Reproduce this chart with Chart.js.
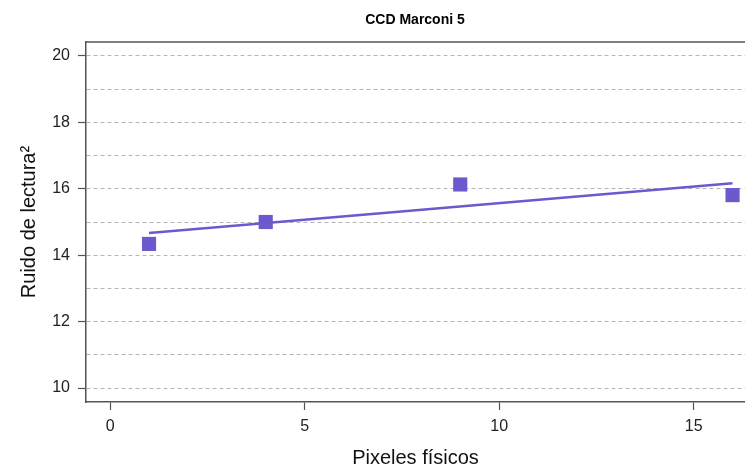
<!DOCTYPE html>
<html>
<head>
<meta charset="utf-8">
<script src="https://cdn.jsdelivr.net/npm/chart.js@4"></script>
<style>
  html, body { margin:0; padding:0; background:#fff; overflow:hidden }
  canvas { display:block }
</style>
</head>
<body>
<canvas id="c" width="745" height="468"></canvas>
<script>
// values
const pixels = [1, 4, 9, 16]
const noiseSq = [14.34, 15.0, 16.13, 15.81]
const fitX = [1, 16]
const fitY = [14.67, 16.17]
const xTicks = [0, 5, 10, 15]
const yLabels = [10, 12, 14, 16, 18, 20]

const purple = '#6A5ACD'
const axisCol = '#555'
const font = 'Liberation Sans, Arial, sans-serif'

// title + top frame line, R style
const frame = {
  id: 'frame',
  afterDraw(chart){
    const {ctx, chartArea:a} = chart
    ctx.save()
    ctx.strokeStyle = axisCol; ctx.lineWidth = 1.5
    ctx.beginPath(); ctx.moveTo(a.left, a.top); ctx.lineTo(a.right, a.top); ctx.stroke()
    ctx.fillStyle = '#000'
    ctx.font = 'bold 14px ' + font
    ctx.textAlign = 'center'; ctx.textBaseline = 'middle'
    ctx.fillText('CCD Marconi 5', 415, 20)
    ctx.restore()
  }
}

new Chart(document.getElementById('c'), {
  type: 'scatter',
  data: {
    datasets: [
      {
        data: pixels.map((x, i) => ({x, y: noiseSq[i]})),
        pointStyle: 'rect', pointRadius: 10, pointHoverRadius: 10,
        backgroundColor: purple, borderColor: purple, borderWidth: 0
      },
      {
        type: 'line',
        data: fitX.map((x, i) => ({x, y: fitY[i]})),
        borderColor: purple, borderWidth: 2.5, pointRadius: 0, fill: false
      }
    ]
  },
  options: {
    responsive: false, animation: false,
    layout: { autoPadding: false, padding: { top: 42, left: 0, right: 0, bottom: 0 } },
    plugins: { legend: { display: false }, tooltip: { enabled: false } },
    scales: {
      x: {
        type: 'linear', min: -0.62, max: 16.32,
        afterFit: s => { s.height = 66; s.paddingLeft = 0; s.paddingRight = 0 },
        afterBuildTicks: s => { s.ticks = xTicks.map(v => ({value: v})) },
        ticks: { color: '#222', font: { family: font, size: 16 }, padding: 7, maxRotation: 0 },
        grid: { drawOnChartArea: false, tickLength: 8, tickColor: axisCol, tickWidth: 1.2 },
        border: { display: true, color: axisCol, width: 1.5 },
        title: { display: true, text: 'Pixeles físicos', color: '#111',
                 font: { family: font, size: 20 }, padding: { top: 4, bottom: -2 } }
      },
      y: {
        min: 9.58, max: 20.42,
        afterFit: s => { s.width = 86 },
        ticks: { stepSize: 1, includeBounds: false, color: '#222', padding: 8,
                 font: { family: font, size: 16 },
                 callback: v => yLabels.includes(v) ? String(v) : '' },
        grid: {
          color: '#b5b5b5', lineWidth: 1, tickLength: 8, tickWidth: 1.2,
          tickColor: c => yLabels.includes(c.tick.value) ? axisCol : 'rgba(0,0,0,0)'
        },
        border: { display: true, color: axisCol, width: 1.5, dash: [4, 3] },
        title: { display: true, text: 'Ruido de lectura²', color: '#111',
                 font: { family: font, size: 20 }, padding: { top: 17, bottom: 0 } }
      }
    }
  },
  plugins: [frame]
})
</script>
</body>
</html>
